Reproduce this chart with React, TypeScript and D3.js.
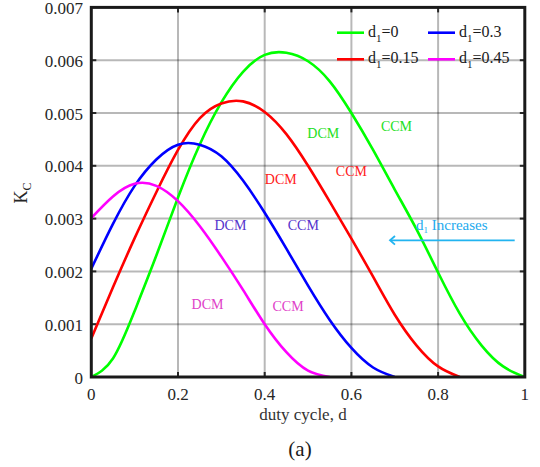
import React from 'react';
import * as d3 from 'd3';

// ---- data ----
const xTicks = [0, 0.2, 0.4, 0.6, 0.8, 1];
const xTickLabels = ['0', '0.2', '0.4', '0.6', '0.8', '1'];
const yTicks = [0, 0.001, 0.002, 0.003, 0.004, 0.005, 0.006, 0.007];
const yTickLabels = ['0', '0.001', '0.002', '0.003', '0.004', '0.005', '0.006', '0.007'];

const d1Labels = ['0', '0.15', '0.3', '0.45'];
const seriesColors = ['#00ff00', '#ff0000', '#0000ff', '#ff00ff'];

const dutyD0 = [0, 0.05, 0.1, 0.15, 0.2, 0.25, 0.3, 0.35, 0.4, 0.45, 0.5, 0.55, 0.6, 0.65, 0.7, 0.75, 0.8, 0.85, 0.9, 0.95, 1];
const kcD0 = [0, 0.00035, 0.00125, 0.0023, 0.0034, 0.0044, 0.0052, 0.00578, 0.0061, 0.00614, 0.00598, 0.0056, 0.005, 0.0043, 0.00355, 0.0028, 0.00198, 0.0012, 0.0006, 0.0002, 0];

const dutyD015 = [0, 0.05, 0.1, 0.15, 0.2, 0.25, 0.3, 0.35, 0.4, 0.45, 0.5, 0.55, 0.6, 0.65, 0.7, 0.75, 0.8, 0.85];
const kcD015 = [0.00073, 0.0017, 0.00263, 0.0035, 0.0043, 0.0049, 0.00518, 0.00522, 0.00502, 0.0046, 0.004, 0.00332, 0.00262, 0.0019, 0.00118, 0.0006, 0.0002, 0];

const dutyD03 = [0, 0.05, 0.1, 0.15, 0.2, 0.25, 0.3, 0.35, 0.4, 0.45, 0.5, 0.55, 0.6, 0.65, 0.7];
const kcD03 = [0.00205, 0.0029, 0.00362, 0.00412, 0.0044, 0.0044, 0.00418, 0.00372, 0.00311, 0.00243, 0.00173, 0.00108, 0.00055, 0.00018, 0];

const dutyD045 = [0, 0.05, 0.1, 0.15, 0.2, 0.25, 0.3, 0.35, 0.4, 0.45, 0.5, 0.55];
const kcD045 = [0.00301, 0.00342, 0.00366, 0.00362, 0.00333, 0.00286, 0.00228, 0.00165, 0.001, 0.00047, 0.00012, 0];

const seriesDuty = [dutyD0, dutyD015, dutyD03, dutyD045];
const seriesKc = [kcD0, kcD015, kcD03, kcD045];

// mode annotations
const annotLabels = ['DCM', 'CCM', 'DCM', 'CCM', 'DCM', 'CCM', 'DCM', 'CCM'];
const annotD = [0.535, 0.704, 0.437, 0.6, 0.321, 0.489, 0.268, 0.454];
const annotK = [0.00452, 0.00466, 0.00366, 0.00381, 0.00279, 0.00278, 0.00128, 0.00125];
const annotColors = ['#22e022', '#22e022', '#ff2020', '#ff2020', '#5533cc', '#5533cc', '#e040c8', '#e040c8'];

export default function App() {
  const W = 540, H = 467;
  const left = 91.3, right = 524.8, top = 7.4, bottom = 377;
  const x = d3.scaleLinear().domain([0, 1]).range([left, right]);
  const y = d3.scaleLinear().domain([0, 0.007]).range([bottom, top]);
  const line = d3.line<[number, number]>()
    .x(p => x(p[0]))
    .y(p => y(p[1]))
    .curve(d3.curveNatural);

  const serif = '"Liberation Serif", "Times New Roman", serif';
  const tickLen = 5;

  return (
    <div style={{ position: 'absolute', left: 0, top: 0 }}>
      <svg width={W} height={H} style={{ display: 'block', background: '#fff' }}>
        <defs>
          <clipPath id="plotClip">
            <rect x={left} y={top} width={right - left} height={bottom - top} />
          </clipPath>
        </defs>
        {/* grid */}
        <g stroke="#000" strokeOpacity={0.28} strokeWidth={2}>
          {xTicks.slice(1, -1).map((t, i) => (
            <line key={'gx' + i} x1={x(t)} x2={x(t)} y1={top} y2={bottom} />
          ))}
          {yTicks.slice(1, -1).map((t, i) => (
            <line key={'gy' + i} x1={left} x2={right} y1={y(t)} y2={y(t)} />
          ))}
        </g>
        {/* ticks on all sides */}
        <g stroke="#262626" strokeWidth={2}>
          {xTicks.slice(1, -1).map((t, i) => (
            <g key={'tx' + i}>
              <line x1={x(t)} x2={x(t)} y1={bottom} y2={bottom - tickLen} />
              <line x1={x(t)} x2={x(t)} y1={top} y2={top + tickLen} />
            </g>
          ))}
          {yTicks.slice(1, -1).map((t, i) => (
            <g key={'ty' + i}>
              <line x1={left} x2={left + tickLen} y1={y(t)} y2={y(t)} />
              <line x1={right} x2={right - tickLen} y1={y(t)} y2={y(t)} />
            </g>
          ))}
        </g>
        {/* curves */}
        <g fill="none" strokeWidth={2.6} clipPath="url(#plotClip)">
          {seriesDuty.map((ds, i) => (
            <path key={'s' + i} d={line(ds.map((dv, j) => [dv, seriesKc[i][j]] as [number, number])) || ''}
              stroke={seriesColors[i]} />
          ))}
        </g>
        {/* frame */}
        <rect x={left} y={top} width={right - left} height={bottom - top} fill="none" stroke="#1a1a1a" strokeWidth={3} />
        {/* tick labels */}
        <g fontFamily={serif} fontSize={17} fill="#262626">
          {yTicks.map((t, i) => (
            <text key={'yl' + i} x={83} y={y(t) + 6.5} textAnchor="end">{yTickLabels[i]}</text>
          ))}
          {xTicks.map((t, i) => (
            <text key={'xl' + i} x={x(t)} y={400} textAnchor="middle">{xTickLabels[i]}</text>
          ))}
        </g>
        {/* axis labels */}
        <text x={303} y={420} textAnchor="middle" fontFamily={serif} fontSize={17} fill="#333">duty cycle, d</text>
        <text x={300} y={456} textAnchor="middle" fontFamily={serif} fontSize={21} fill="#1a1a1a">(a)</text>
        <text transform="translate(27,193) rotate(-90)" textAnchor="middle" fontFamily={serif} fontSize={18} fill="#262626">
          K<tspan fontSize={12} dy={4}>C</tspan>
        </text>
        {/* legend */}
        <g fontFamily={serif} fontSize={16} fill="#1a1a1a">
          {d1Labels.map((lab, i) => {
            const col = Math.floor(i / 2) === 0 ? 0 : 1;
            const row = i % 2;
            const lx = col === 0 ? 337 : 428;
            const ly = row === 0 ? 32.7 : 59.3;
            return (
              <g key={'lg' + i}>
                <line x1={lx} x2={lx + 27} y1={ly} y2={ly} stroke={seriesColors[i]} strokeWidth={2.6} />
                <text x={lx + 31} y={ly + 4}>d<tspan fontSize={11} dy={5}>1</tspan><tspan dy={-5}>={lab}</tspan></text>
              </g>
            );
          })}
        </g>
        {/* annotations */}
        <g fontFamily={serif} fontSize={14}>
          {annotLabels.map((lab, i) => (
            <text key={'an' + i} x={x(annotD[i])} y={y(annotK[i])} textAnchor="middle" fill={annotColors[i]}>{lab}</text>
          ))}
        </g>
        <text x={416} y={230} fontFamily={serif} fontSize={15} fill="#22aaee">
          d<tspan fontSize={9} dy={3}>1</tspan><tspan dy={-3}> Increases</tspan>
        </text>
        <line x1={514.7} x2={391} y1={240.3} y2={240.3} stroke="#22b4f0" strokeWidth={1.8} />
        <path d="M 395 236 L 390 240.3 L 395 244.6" fill="none" stroke="#22b4f0" strokeWidth={1.8} />
      </svg>
    </div>
  );
}
